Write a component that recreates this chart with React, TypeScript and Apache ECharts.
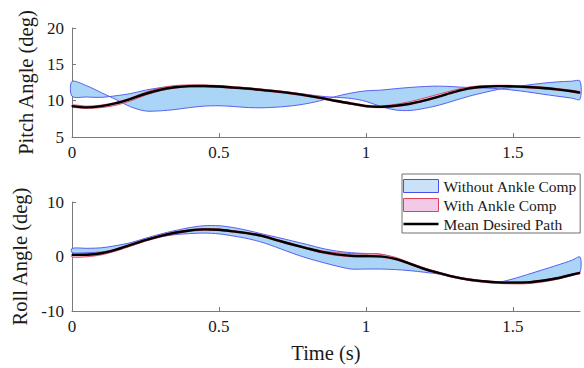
import React, { useEffect, useRef } from 'react';
import * as echarts from 'echarts';

// ---- data ----
const time = [0, 0.05, 0.1, 0.15, 0.2, 0.25, 0.3, 0.35, 0.4, 0.45, 0.5, 0.55, 0.6, 0.65, 0.7, 0.75, 0.8, 0.85, 0.9, 0.95, 1.0, 1.05, 1.1, 1.15, 1.2, 1.25, 1.3, 1.35, 1.4, 1.45, 1.5, 1.55, 1.6, 1.65, 1.7, 1.728];
const xTicks = [0, 0.5, 1, 1.5];
const pitchTicks = [5, 10, 15, 20];
const rollTicks = [-10, 0, 10];

// Pitch: band without ankle compensation (two bounding curves)
const pitchNoCompA = [12.66, 12.05, 11.1, 10.15, 9.15, 8.58, 8.6, 8.78, 9.05, 9.25, 9.3, 9.2, 9.05, 9.02, 9.12, 9.3, 9.6, 10.05, 10.6, 11.05, 11.35, 11.45, 11.65, 11.82, 11.95, 12.0, 11.92, 11.8, 11.75, 11.65, 11.45, 11.2, 10.9, 10.62, 10.35, 10.18];
const pitchNoCompB = [10.6, 10.5, 10.46, 10.68, 10.98, 11.45, 11.78, 12.0, 12.1, 12.1, 12.02, 11.9, 11.75, 11.55, 11.35, 11.1, 10.85, 10.6, 10.45, 10.3, 9.9, 9.2, 8.72, 8.65, 8.95, 9.4, 10.0, 10.6, 11.1, 11.55, 11.85, 12.15, 12.4, 12.58, 12.68, 12.7];
// Pitch: band with ankle compensation
const pitchCompU = [9.42, 9.25, 9.4, 9.78, 10.38, 11.15, 11.75, 12.08, 12.17, 12.15, 12.08, 11.93, 11.78, 11.58, 11.38, 11.13, 10.83, 10.48, 10.08, 9.73, 9.38, 9.28, 9.5, 9.88, 10.38, 10.92, 11.45, 11.88, 12.06, 12.12, 12.1, 12.0, 11.88, 11.68, 11.43, 11.23];
const pitchCompL = [9.12, 8.95, 9.05, 9.38, 9.98, 10.75, 11.35, 11.72, 11.88, 11.9, 11.83, 11.68, 11.53, 11.33, 11.13, 10.88, 10.58, 10.23, 9.83, 9.48, 9.13, 9.03, 9.18, 9.46, 9.93, 10.48, 11.08, 11.58, 11.8, 11.88, 11.85, 11.76, 11.63, 11.43, 11.18, 10.98];
// Pitch: mean desired path
const pitchDesired = [9.25, 9.08, 9.25, 9.65, 10.25, 10.95, 11.5, 11.85, 12.0, 12.02, 11.95, 11.8, 11.65, 11.45, 11.25, 11.0, 10.7, 10.35, 9.95, 9.6, 9.25, 9.15, 9.3, 9.58, 10.05, 10.6, 11.2, 11.7, 11.92, 12.0, 11.97, 11.88, 11.75, 11.55, 11.3, 11.1];

// Roll
const rollNoCompU = [1.5, 1.5, 1.6, 2.0, 2.55, 3.35, 4.1, 4.75, 5.3, 5.65, 5.65, 5.3, 4.75, 4.1, 3.5, 2.85, 2.2, 1.5, 1.0, 0.7, 0.55, 0.45, -0.3, -1.2, -2.15, -2.95, -3.65, -4.1, -4.45, -4.7, -4.1, -3.3, -2.45, -1.6, -0.7, -0.1];
const rollNoCompL = [0.7, 0.7, 0.85, 1.3, 2.1, 2.95, 3.6, 4.0, 4.2, 4.3, 4.15, 3.75, 3.25, 2.55, 1.6, 0.6, -0.3, -1.05, -1.75, -2.3, -2.3, -2.3, -2.4, -2.6, -2.9, -3.25, -3.85, -4.35, -4.6, -4.78, -4.75, -4.65, -4.35, -3.9, -3.25, -2.85];
const rollCompU = [0.45, 0.48, 0.75, 1.42, 2.3, 3.15, 3.9, 4.5, 4.9, 5.12, 5.05, 4.75, 4.4, 3.9, 3.1, 2.35, 1.65, 1.05, 0.7, 0.55, 0.5, 0.4, -0.15, -1.15, -2.1, -2.9, -3.6, -4.1, -4.42, -4.62, -4.68, -4.62, -4.32, -3.88, -3.22, -2.88];
const rollCompL = [-0.1, -0.05, 0.3, 1.0, 1.9, 2.8, 3.55, 4.15, 4.6, 4.82, 4.75, 4.45, 4.1, 3.6, 2.8, 2.05, 1.35, 0.65, 0.2, -0.05, -0.1, -0.15, -0.6, -1.5, -2.45, -3.2, -3.9, -4.4, -4.75, -4.95, -5.02, -4.98, -4.68, -4.2, -3.5, -3.12];
const rollDesired = [0.3, 0.33, 0.6, 1.25, 2.15, 3.0, 3.75, 4.35, 4.78, 4.98, 4.9, 4.6, 4.25, 3.75, 2.95, 2.2, 1.5, 0.85, 0.4, 0.15, 0.08, 0.02, -0.45, -1.35, -2.3, -3.05, -3.75, -4.25, -4.55, -4.75, -4.8, -4.75, -4.45, -4.0, -3.35, -3.0];

const NAME_NO = 'Without Ankle Comp';
const NAME_WITH = 'With Ankle Comp';
const NAME_MEAN = 'Mean Desired Path';

// ---- styles ----
const FONT = '"Liberation Serif", "Times New Roman", serif';
const AXIS = '#7a7a7a';
const TEXT = '#1a1a1a';
const BLUE_FILL = '#aad5f7';
const BLUE_EDGE = '#4a50ee';
const PINK_FILL = '#f2c3e3';
const RED_EDGE = '#e0415c';

function band(name: string, g: number, upper: number[], lower: number[], fill: string, stroke: string, z: number) {
  return {
    type: 'custom',
    name,
    xAxisIndex: g,
    yAxisIndex: g,
    z,
    silent: true,
    data: [[time[0], upper[0]]],
    itemStyle: { color: fill, borderColor: stroke },
    renderItem: (_params: any, api: any) => {
      const pts: number[][] = [];
      for (let i = 0; i < time.length; i++) pts.push(api.coord([time[i], upper[i]]));
      for (let i = time.length - 1; i >= 0; i--) pts.push(api.coord([time[i], lower[i]]));
      return {
        type: 'polygon',
        shape: { points: pts, smooth: 0.3 },
        style: { fill, stroke, lineWidth: 0.9 },
      };
    },
  };
}

function meanLine(g: number, values: number[]) {
  return {
    type: 'line',
    name: NAME_MEAN,
    xAxisIndex: g,
    yAxisIndex: g,
    z: 5,
    silent: true,
    symbol: 'none',
    smooth: 0.3,
    data: time.map((t, i) => [t, values[i]]),
    lineStyle: { color: '#000', width: 2.4 },
    itemStyle: { color: '#000' },
  };
}

function xAxis(g: number, name: string) {
  return {
    type: 'value',
    gridIndex: g,
    min: 0,
    max: 1.728,
    interval: 0.5,
    name,
    nameLocation: 'middle',
    nameGap: 31,
    nameTextStyle: { fontFamily: FONT, fontSize: 20.5, color: TEXT },
    axisLine: { show: true, onZero: false, lineStyle: { color: AXIS, width: 1 } },
    axisTick: { show: true, inside: true, length: 4, customValues: xTicks, lineStyle: { color: AXIS } },
    axisLabel: { customValues: xTicks, fontFamily: FONT, fontSize: 17, color: TEXT, margin: 7 },
    splitLine: { show: false },
  };
}

function yAxis(g: number, name: string, min: number, max: number, interval: number, ticks: number[]) {
  return {
    type: 'value',
    gridIndex: g,
    min,
    max,
    interval,
    name,
    nameLocation: 'middle',
    nameGap: 25,
    nameTextStyle: { fontFamily: FONT, fontSize: 20.5, color: TEXT },
    axisLine: { show: true, onZero: false, lineStyle: { color: AXIS, width: 1 } },
    axisTick: { show: true, inside: true, length: 4, customValues: ticks, lineStyle: { color: AXIS } },
    axisLabel: { customValues: ticks, fontFamily: FONT, fontSize: 17, color: TEXT, margin: 8 },
    splitLine: { show: false },
  };
}

export default function App() {
  const ref = useRef<HTMLDivElement>(null);
  useEffect(() => {
    if (!ref.current) return;
    const chart = echarts.init(ref.current, undefined, { renderer: 'svg' });
    chart.setOption({
      animation: false,
      backgroundColor: '#fff',
      grid: [
        { left: 72, top: 28, width: 508, height: 109 },
        { left: 72, top: 202, width: 508, height: 109 },
      ],
      xAxis: [xAxis(0, ''), xAxis(1, 'Time (s)')],
      yAxis: [
        yAxis(0, 'Pitch Angle (deg)', 5, 20, 5, pitchTicks),
        yAxis(1, 'Roll Angle (deg)', -10, 10, 10, rollTicks),
      ],
      legend: {
        orient: 'vertical',
        left: 402,
        top: 174,
        itemWidth: 35,
        itemHeight: 13,
        itemGap: 3,
        padding: [4, 3, 1, 1],
        borderColor: '#4d4d4d',
        borderWidth: 0.8,
        backgroundColor: '#fff',
        selectedMode: false,
        symbolKeepAspect: true,
        textStyle: { fontFamily: FONT, fontSize: 15.5, color: TEXT },
        data: [
          { name: NAME_NO, icon: 'rect', itemStyle: { color: '#c9e2f8', borderColor: BLUE_EDGE, borderWidth: 1 } },
          { name: NAME_WITH, icon: 'rect', itemStyle: { color: '#f3cae6', borderColor: RED_EDGE, borderWidth: 1 } },
          {
            name: NAME_MEAN,
            icon: 'path://M0,0 L35,0 L35,2.4 L0,2.4 Z',
            itemStyle: { color: '#000', borderWidth: 0 },
            lineStyle: { width: 0 },
          },
        ],
      },
      series: [
        band(NAME_NO, 0, pitchNoCompA, pitchNoCompB, BLUE_FILL, BLUE_EDGE, 2),
        band(NAME_WITH, 0, pitchCompU, pitchCompL, PINK_FILL, RED_EDGE, 3),
        meanLine(0, pitchDesired),
        band(NAME_NO, 1, rollNoCompU, rollNoCompL, BLUE_FILL, BLUE_EDGE, 2),
        band(NAME_WITH, 1, rollCompU, rollCompL, PINK_FILL, RED_EDGE, 3),
        meanLine(1, rollDesired),
      ],
    });
    return () => chart.dispose();
  }, []);
  return (
    <div
      ref={ref}
      style={{ position: 'absolute', left: 0, top: 0, width: 584, height: 368, background: '#fff' }}
    />
  );
}
